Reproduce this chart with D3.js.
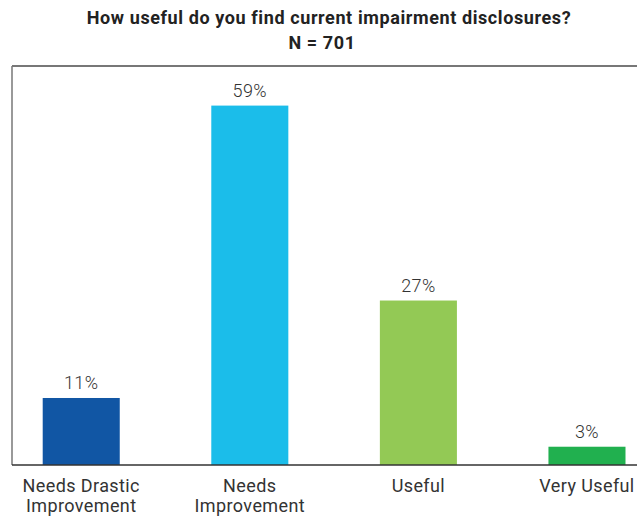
<!DOCTYPE html>
<html>
<head>
<meta charset="utf-8">
<script src="https://cdn.jsdelivr.net/npm/d3@7"></script>
<style>
  html, body { margin: 0; padding: 0; background: #fff; }
  svg { display: block; }
</style>
</head>
<body>
<svg id="chart" width="637" height="516"></svg>
<script>
const title = "How useful do you find current impairment disclosures?";
const subtitle = "N = 701";
const categories = ["Needs Drastic Improvement", "Needs Improvement", "Useful", "Very Useful"];
const categoryLines = [["Needs Drastic", "Improvement"], ["Needs", "Improvement"], ["Useful"], ["Very Useful"]];
const values = [11, 59, 27, 3];
const colors = ["#1156a4", "#1bbdea", "#93c955", "#21b04f"];

const svg = d3.select("#chart");
const W = 637, H = 516;
const frame = { left: 12, top: 66, bottom: 465 };

const x = d3.scaleBand()
  .domain(categories)
  .range([-3.1, 671.3])
  .paddingInner(0.543)
  .paddingOuter(0.2717);

const y = d3.scaleLinear().domain([0, 65.5]).range([frame.bottom, frame.top]);

// Title
svg.append("text")
  .attr("x", 329).attr("y", 24)
  .attr("text-anchor", "middle")
  .attr("font-family", "Roboto, sans-serif")
  .attr("font-weight", "bold")
  .attr("font-size", 18)
  .attr("letter-spacing", 0.6)
  .attr("fill", "#222")
  .text(title);
svg.append("text")
  .attr("x", 322).attr("y", 49)
  .attr("text-anchor", "middle")
  .attr("font-family", "Roboto, sans-serif")
  .attr("font-weight", "bold")
  .attr("font-size", 18)
  .attr("letter-spacing", 0.6)
  .attr("fill", "#222")
  .text(subtitle);

// Frame: top and left
svg.append("line")
  .attr("x1", frame.left).attr("x2", W)
  .attr("y1", frame.top).attr("y2", frame.top)
  .attr("stroke", "#4a4a4a").attr("stroke-width", 1.5);
svg.append("line")
  .attr("x1", frame.left).attr("x2", frame.left)
  .attr("y1", frame.top).attr("y2", frame.bottom)
  .attr("stroke", "#777").attr("stroke-width", 1.5);

// Bars
svg.selectAll("rect.bar")
  .data(values)
  .join("rect")
  .attr("class", "bar")
  .attr("x", (d, i) => x(categories[i]))
  .attr("width", x.bandwidth())
  .attr("y", d => y(d))
  .attr("height", d => y(0) - y(d))
  .attr("fill", (d, i) => colors[i]);

// Value labels
svg.selectAll("text.val")
  .data(values)
  .join("text")
  .attr("class", "val")
  .attr("x", (d, i) => x(categories[i]) + x.bandwidth() / 2)
  .attr("y", d => y(d) - 9)
  .attr("text-anchor", "middle")
  .attr("font-family", "Roboto, sans-serif")
  .attr("font-weight", 300)
  .attr("font-size", 18)
  .attr("letter-spacing", 0.4)
  .attr("fill", "#333")
  .text(d => d + "%");

// X axis
const xAxis = d3.axisBottom(x).tickSize(0).tickPadding(0).tickFormat("");
const gx = svg.append("g")
  .attr("transform", `translate(0,${frame.bottom})`)
  .call(xAxis);
gx.select(".domain").remove();
gx.append("line")
  .attr("x1", frame.left).attr("x2", W)
  .attr("stroke", "#333").attr("stroke-width", 1.5);

gx.selectAll(".tick").each(function(d, i) {
  const t = d3.select(this).append("text")
    .attr("text-anchor", "middle")
    .attr("font-family", "Roboto, sans-serif")
    .attr("font-size", 18)
    .attr("letter-spacing", 0.4)
    .attr("fill", "#333");
  categoryLines[i].forEach((line, j) => {
    t.append("tspan").attr("x", 0).attr("y", 27 + j * 20).text(line);
  });
});
</script>
</body>
</html>
